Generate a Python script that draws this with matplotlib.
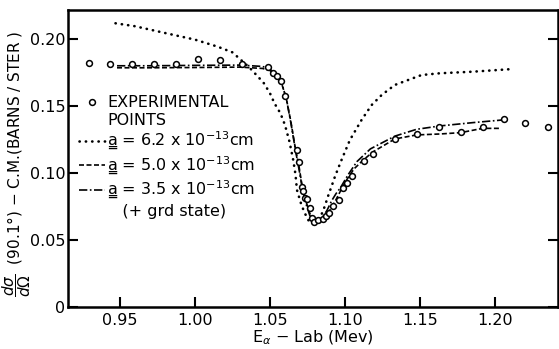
import matplotlib
matplotlib.use("Agg")
import matplotlib.pyplot as plt
from matplotlib.lines import Line2D

plt.rcParams['font.family'] = ['DejaVu Sans']
plt.rcParams['mathtext.fontset'] = 'dejavusans'

# experimental points
exp_E = [0.9293, 0.9433, 0.9578, 0.9727, 0.9873, 1.0018, 1.0167, 1.0315, 1.0485,
         1.0518, 1.0545, 1.0575, 1.0602, 1.0678, 1.0693, 1.0711, 1.0722, 1.0733,
         1.0749, 1.0767, 1.0778, 1.0795, 1.0822, 1.0851, 1.0873, 1.0895, 1.0922,
         1.0960, 1.0985, 1.1015, 1.1045, 1.1129, 1.1189, 1.1333, 1.1478, 1.1627,
         1.1771, 1.1918, 1.2060, 1.2200, 1.2351]
exp_sig = [0.1823, 0.1813, 0.1813, 0.1810, 0.1810, 0.1853, 0.1840, 0.1810, 0.1789,
           0.1749, 0.1724, 0.1689, 0.1577, 0.1172, 0.1085, 0.0893, 0.0868, 0.0811,
           0.0804, 0.0736, 0.0662, 0.0637, 0.0649, 0.0657, 0.0682, 0.0704, 0.0754,
           0.0799, 0.0886, 0.0928, 0.0980, 0.1092, 0.1140, 0.1254, 0.1291, 0.1341,
           0.1304, 0.1341, 0.1400, 0.1370, 0.1341]

# a = 6.2e-13 cm (dotted)
a62_E = [0.947, 0.960, 0.981, 1.000, 1.015, 1.025, 1.030, 1.036, 1.042, 1.046,
         1.050, 1.053, 1.057, 1.060, 1.063, 1.0655, 1.067, 1.068, 1.071, 1.0733,
         1.0755, 1.078, 1.081, 1.084, 1.0865, 1.089, 1.091, 1.0933, 1.0955, 1.098,
         1.1033, 1.1111, 1.1178, 1.1245, 1.1333, 1.1422, 1.1511, 1.1633, 1.1855, 1.2095]
a62_sig = [0.2117, 0.2095, 0.2042, 0.1995, 0.1943, 0.1900, 0.1850, 0.1790, 0.1719, 0.1669,
           0.1595, 0.1520, 0.1445, 0.1358, 0.1234, 0.1097, 0.0990, 0.0873, 0.0761, 0.0699,
           0.0649, 0.0629, 0.0635, 0.0680, 0.0750, 0.0836, 0.0898, 0.0972, 0.1035, 0.1105,
           0.1246, 0.1396, 0.1507, 0.1582, 0.1657, 0.1694, 0.1731, 0.1744, 0.1756, 0.1774]

# a = 5.0e-13 cm (dashed)
a50_E = [0.948, 0.970, 1.000, 1.030, 1.045, 1.050, 1.054, 1.058, 1.061, 1.064,
         1.067, 1.0695, 1.0715, 1.074, 1.0765, 1.079, 1.082, 1.085, 1.088, 1.091,
         1.094, 1.097, 1.1011, 1.106, 1.1122, 1.1189, 1.1333, 1.1478, 1.1633, 1.1771,
         1.1918, 1.2033]
a50_sig = [0.1785, 0.1785, 0.1787, 0.1790, 0.1780, 0.1765, 0.1725, 0.1660, 0.1550, 0.1380,
           0.1180, 0.1040, 0.0900, 0.0790, 0.0700, 0.0645, 0.0635, 0.0650, 0.0690, 0.0740,
           0.0800, 0.0865, 0.0948, 0.1030, 0.1097, 0.1159, 0.1254, 0.1284, 0.1291, 0.1301,
           0.1333, 0.1333]

# a = 3.5e-13 cm (+ grd state) (dash-dot)
a35_E = [0.948, 0.970, 1.000, 1.030, 1.045, 1.050, 1.054, 1.058, 1.061, 1.064,
         1.067, 1.0695, 1.0715, 1.074, 1.0765, 1.079, 1.082, 1.085, 1.088, 1.091,
         1.094, 1.097, 1.102, 1.108, 1.117, 1.1333, 1.1478, 1.1633, 1.1855, 1.2055]
a35_sig = [0.1800, 0.1800, 0.1803, 0.1805, 0.1795, 0.1775, 0.1735, 0.1665, 0.1550, 0.1370,
           0.1170, 0.1020, 0.0890, 0.0770, 0.0685, 0.0640, 0.0640, 0.0670, 0.0720, 0.0790,
           0.0845, 0.0890, 0.0985, 0.1085, 0.1180, 0.1275, 0.1326, 0.1351, 0.1376, 0.1396]

x_ticks = [0.95, 1.00, 1.05, 1.10, 1.15, 1.20]
x_labels = ['0.95', '1.00', '1.05', '1.10', '1.15', '1.20']
y_ticks = [0, 0.05, 0.10, 0.15, 0.20]
y_labels = ['0', '0.05', '0.10', '0.15', '0.20']

fig = plt.figure(figsize=(5.59, 3.49), dpi=100)
ax = fig.add_axes([0.1216, 0.1203, 0.8764, 0.851])

dot_ls = (0, (0.1, 2.3))
dash_ls = (0, (3, 1.5))
dashdot_ls = (0, (5, 1.5, 1, 1.5))

ax.plot(a62_E, a62_sig, color='black', lw=1.9, linestyle=dot_ls, dash_capstyle='round')
ax.plot(a50_E, a50_sig, color='black', lw=1.2, linestyle=dash_ls)
ax.plot(a35_E, a35_sig, color='black', lw=1.2, linestyle=dashdot_ls)
ax.plot(exp_E, exp_sig, linestyle='none', marker='o', ms=4.2, mfc='white',
        mec='black', mew=1.1)

ax.set_xlim(0.9153, 1.242)
ax.set_ylim(0, 0.2216)
ax.set_xticks(x_ticks)
ax.set_xticklabels(x_labels)
ax.set_yticks(y_ticks)
ax.set_yticklabels(y_labels)
ax.tick_params(direction='in', length=7, width=1.5, labelsize=11.5,
               top=False, right=True)
ax.tick_params(axis='y', pad=2)
ax.tick_params(axis='x', pad=4)
for s in ax.spines.values():
    s.set_linewidth(1.8)

# legend
ua = 'a\u0333'
handles = [
    Line2D([], [], linestyle='none', marker='o', ms=4.2, mfc='white', mec='black', mew=1.1),
    Line2D([], [], linestyle='none'),
    Line2D([], [], color='black', lw=1.9, linestyle=dot_ls, dash_capstyle='round'),
    Line2D([], [], color='black', lw=1.2, linestyle=dash_ls),
    Line2D([], [], color='black', lw=1.2, linestyle=dashdot_ls),
    Line2D([], [], linestyle='none'),
]
labels = ['EXPERIMENTAL', 'POINTS',
          ua + r' = 6.2 x 10$^{-13}$cm',
          ua + r' = 5.0 x 10$^{-13}$cm',
          ua + r' = 3.5 x 10$^{-13}$cm',
          '   (+ grd state)']
ax.legend(handles, labels, loc='upper left', bbox_to_anchor=(0.0, 0.75),
          frameon=False, fontsize=11.5, handlelength=1.6, handletextpad=0.15,
          labelspacing=0.15, borderaxespad=0.3)

fig.text(0.029, 0.53,
         r'$\dfrac{d\sigma}{d\Omega}$  (90.1°) $-$ C.M.(BARNS / STER )',
         rotation=90, ha='center', va='center', fontsize=11)
ax.set_xlabel(r'E$_{\alpha}$ $-$ Lab (Mev)', fontsize=11.5, labelpad=1)

fig.savefig('out.png', dpi=100)
